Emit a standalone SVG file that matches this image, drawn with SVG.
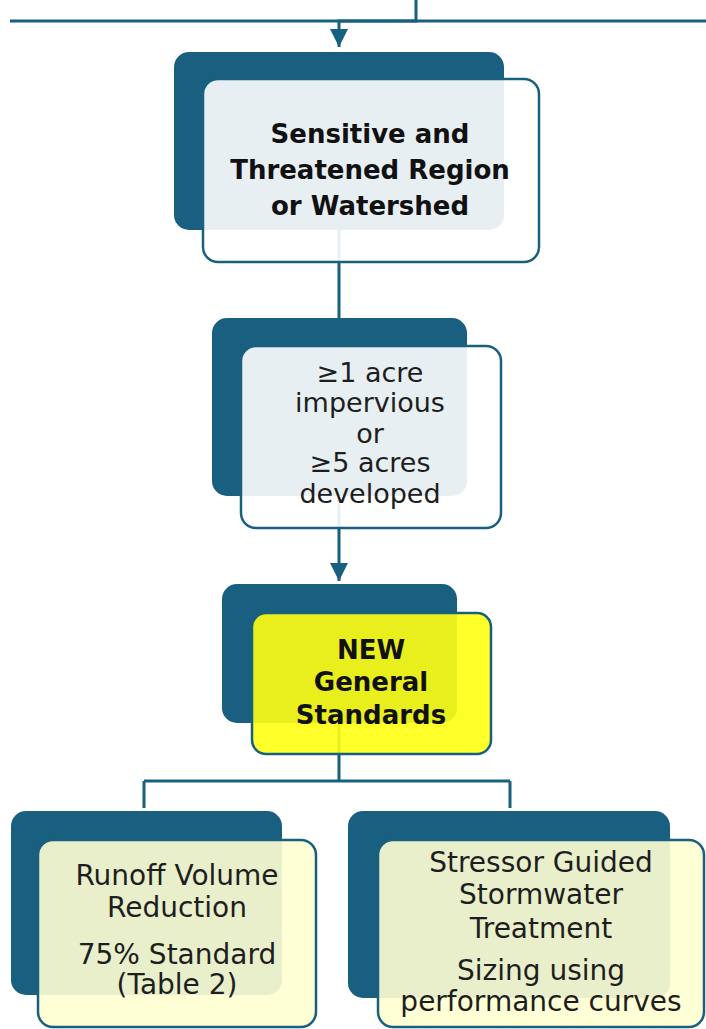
<svg xmlns="http://www.w3.org/2000/svg" width="706" height="1029" viewBox="0 0 706 1029">
<style>
.back{fill:#185f80}
.front{stroke:#185f80;stroke-width:2.5;fill-opacity:0.9}
.conn{fill:none;stroke:#185f80;stroke-width:3}
.t{font-family:"DejaVu Sans","Liberation Sans",sans-serif;font-size:28px;fill:#1e1e1e;text-anchor:middle}
.s{font-size:27px}
.b{font-weight:bold;font-size:26px;fill:#111}
</style>
<defs>
<marker id="arr" viewBox="0 0 10 10" refX="10" refY="5" markerWidth="6" markerHeight="6" markerUnits="strokeWidth" orient="auto">
<path d="M0,0 L10,5 L0,10 z" fill="#185f80"/>
</marker>
</defs>
<rect width="706" height="1029" fill="#ffffff"/>
<g id="connectors">
<line class="conn" x1="10" y1="21" x2="706" y2="21"/>
<path class="conn" d="M416,0 V21 H339 V47" marker-end="url(#arr)"/>
<path class="conn" d="M339,230 V318"/>
<path class="conn" d="M339,497 V581" marker-end="url(#arr)"/>
<path class="conn" d="M339,723 V781 M144,781 H510 M144,781 V808 M510,781 V808"/>
</g>
<g id="node1">
<rect class="back" x="174" y="52" width="330" height="178" rx="15"/>
<rect class="front" x="203" y="79" width="336" height="183" rx="15" fill="#ffffff"/>
<text class="t b" x="370" y="143">Sensitive and</text>
<text class="t b" x="370" y="179">Threatened Region</text>
<text class="t b" x="370" y="215">or Watershed</text>
</g>
<g id="node2">
<rect class="back" x="212" y="318" width="255" height="178" rx="15"/>
<rect class="front" x="241" y="346" width="260" height="182" rx="15" fill="#ffffff"/>
<text class="t s" x="370" y="382">≥1 acre</text>
<text class="t s" x="370" y="412">impervious</text>
<text class="t s" x="370" y="443">or</text>
<text class="t s" x="370" y="472">≥5 acres</text>
<text class="t s" x="370" y="503">developed</text>
</g>
<g id="node3">
<rect class="back" x="222" y="584" width="235" height="139" rx="15"/>
<rect class="front" x="252" y="613" width="239" height="141" rx="14" fill="#ffff12"/>
<text class="t b" x="371" y="659">NEW</text>
<text class="t b" x="371" y="691">General</text>
<text class="t b" x="371" y="724">Standards</text>
</g>
<g id="node4">
<rect class="back" x="11" y="811" width="271" height="184" rx="15"/>
<rect class="front" x="38" y="840" width="278" height="187" rx="15" fill="#ffffd2"/>
<text class="t" x="177" y="885">Runoff Volume</text>
<text class="t" x="177" y="917">Reduction</text>
<text class="t" x="177" y="964">75% Standard</text>
<text class="t" x="177" y="994">(Table 2)</text>
</g>
<g id="node5">
<rect class="back" x="348" y="811" width="322" height="187" rx="15"/>
<rect class="front" x="378" y="840" width="326" height="187" rx="15" fill="#ffffd2"/>
<text class="t" x="541" y="872">Stressor Guided</text>
<text class="t" x="541" y="904">Stormwater</text>
<text class="t" x="541" y="938">Treatment</text>
<text class="t" x="541" y="980">Sizing using</text>
<text class="t" x="541" y="1011">performance curves</text>
</g>
</svg>
